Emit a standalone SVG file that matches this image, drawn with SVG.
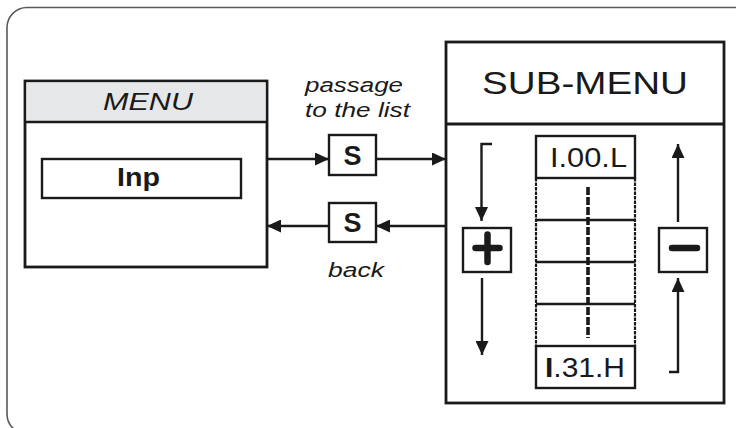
<svg xmlns="http://www.w3.org/2000/svg" width="736" height="428" viewBox="0 0 736 428">
<style>
.frame{fill:none;stroke:#5a5a5a;stroke-width:1.6}
.box{fill:#fff;stroke:#1a1a1a;stroke-width:2.8}
.thin{fill:none;stroke:#1a1a1a;stroke-width:2.4}
.ln{fill:none;stroke:#1a1a1a;stroke-width:2.4}
.dash{fill:none;stroke:#1a1a1a;stroke-width:2.2;stroke-dasharray:3.5 1}
.t{font-family:"Liberation Sans",Arial,sans-serif;fill:#1a1a1a}
.it{font-style:italic}
.b{font-weight:bold}
</style>
<defs>
<marker id="ah" markerUnits="userSpaceOnUse" markerWidth="15" markerHeight="13" refX="14" refY="6.5" orient="auto">
<path d="M0,0 L14,6.5 L0,13 Z" fill="#1a1a1a"/>
</marker>
</defs>
<path class="frame" d="M736,7.5 H27 A20,20 0 0 0 7,27.5 V414 A20,20 0 0 0 27,434"/>

<g id="menu">
<rect class="box" x="25" y="81" width="242" height="186"/>
<rect x="26.4" y="82.4" width="239.2" height="39.6" fill="#e6e7e8"/>
<line class="thin" x1="25" y1="122" x2="267" y2="122"/>
<text class="t it" x="103" y="110" font-size="24" textLength="90" lengthAdjust="spacingAndGlyphs">MENU</text>
<rect class="thin" x="42" y="159" width="199" height="39" fill="#fff" stroke-width="1.8"/>
<text class="t b" x="117" y="186" font-size="26" textLength="43" lengthAdjust="spacingAndGlyphs">Inp</text>
</g>

<g id="s1">
<rect class="thin" x="329" y="135" width="47" height="40" fill="#fff"/>
<text class="t b" x="352.5" y="164.5" font-size="27" text-anchor="middle">S</text>
</g>
<g id="s2">
<rect class="thin" x="329" y="203" width="47" height="39" fill="#fff"/>
<text class="t b" x="352.5" y="232" font-size="27" text-anchor="middle">S</text>
</g>

<g id="labels">
<text class="t it" x="305" y="92" font-size="20" textLength="98" lengthAdjust="spacingAndGlyphs">passage</text>
<text class="t it" x="305" y="117" font-size="20" textLength="105" lengthAdjust="spacingAndGlyphs">to the list</text>
<text class="t it" x="328" y="277" font-size="20" textLength="56" lengthAdjust="spacingAndGlyphs">back</text>
</g>

<g id="submenu">
<rect class="box" x="446" y="42" width="278" height="361"/>
<line class="box" x1="446" y1="124" x2="724" y2="124"/>
<text class="t" x="482" y="94" font-size="32" textLength="206" lengthAdjust="spacingAndGlyphs">SUB-MENU</text>
</g>

<g id="list">
<line class="dash" x1="536" y1="178" x2="536" y2="346"/>
<line class="dash" x1="635" y1="178" x2="635" y2="346"/>
<line class="ln" x1="536" y1="220" x2="635" y2="220"/>
<line class="ln" x1="536" y1="262" x2="635" y2="262"/>
<line class="ln" x1="536" y1="304" x2="635" y2="304"/>
<line x1="588" y1="187" x2="588" y2="338" stroke="#1a1a1a" stroke-width="3.6" stroke-dasharray="8 2"/>
<rect class="thin" x="536" y="136" width="99" height="42" fill="#fff"/>
<text class="t" x="550" y="167" font-size="28" textLength="77" lengthAdjust="spacingAndGlyphs">I.00.L</text>
<rect class="thin" x="536" y="346" width="99" height="42" fill="#fff"/>
<text class="t" x="545" y="377" font-size="28" textLength="80" lengthAdjust="spacingAndGlyphs"><tspan class="b">I</tspan>.31.H</text>
</g>

<g id="plus">
<rect class="thin" x="463" y="228" width="48" height="44" fill="#fff"/>
<path d="M475.5,248 H499.5 M487.5,234.5 V262" stroke="#1a1a1a" stroke-width="6.5" stroke-linecap="round"/>
</g>
<g id="minus">
<rect class="thin" x="659" y="228" width="48" height="44" fill="#fff"/>
<path d="M672,248 H697" stroke="#1a1a1a" stroke-width="6.5" stroke-linecap="round"/>
</g>

<g id="connectors">
<path class="ln" d="M267,159 H329" marker-end="url(#ah)"/>
<path class="ln" d="M376,159 H446" marker-end="url(#ah)"/>
<path class="ln" d="M446,226 H376" marker-end="url(#ah)"/>
<path class="ln" d="M329,226 H267" marker-end="url(#ah)"/>
<path class="ln" d="M492,144 H481.5 V221" marker-end="url(#ah)"/>
<path class="ln" d="M482,278 V355" marker-end="url(#ah)"/>
<path class="ln" d="M678,222 V144" marker-end="url(#ah)"/>
<path class="ln" d="M669,372 H678 V278" marker-end="url(#ah)"/>
</g>
</svg>
